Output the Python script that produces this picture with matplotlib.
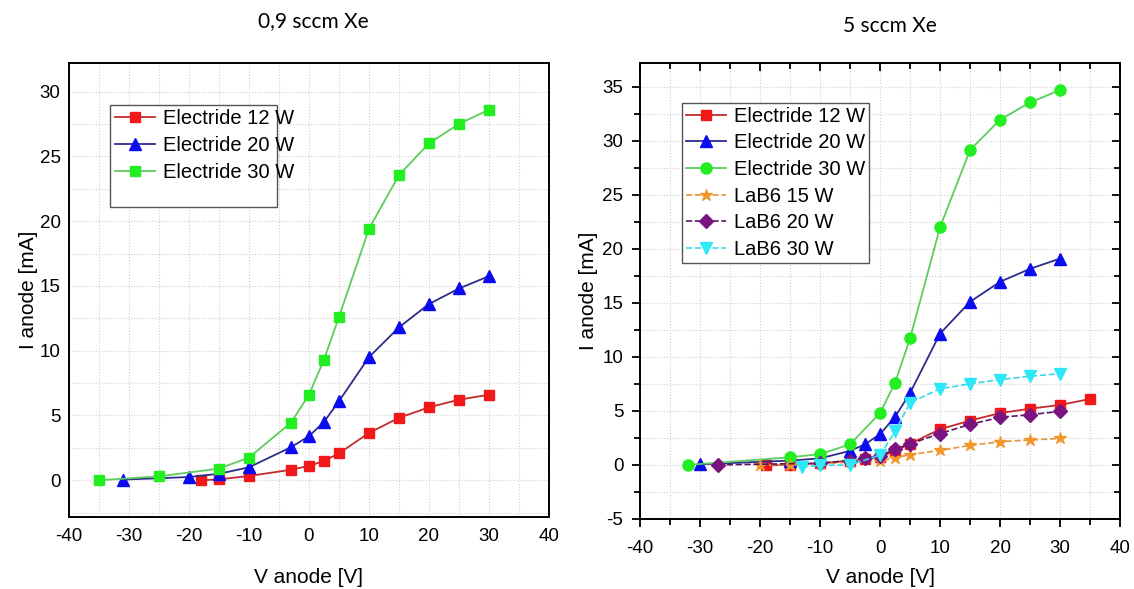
import matplotlib
matplotlib.use("Agg")
import matplotlib.pyplot as plt
from matplotlib.patches import Rectangle
from matplotlib.ticker import MultipleLocator

# ---- 0,9 sccm Xe ----
l_v12 = [-18, -15, -10, -3, 0, 2.5, 5, 10, 15, 20, 25, 30]
l_i12 = [0.0, 0.07, 0.33, 0.81, 1.11, 1.49, 2.08, 3.65, 4.82, 5.63, 6.22, 6.6]
l_v20 = [-31, -20, -15, -10, -3, 0, 2.5, 5, 10, 15, 20, 25, 30]
l_i20 = [0.05, 0.25, 0.5, 1.0, 2.55, 3.4, 4.5, 6.1, 9.5, 11.8, 13.6, 14.8, 15.75]
l_v30 = [-35, -25, -15, -10, -3, 0, 2.5, 5, 10, 15, 20, 25, 30]
l_i30 = [0.0, 0.3, 0.9, 1.75, 4.45, 6.6, 9.3, 12.6, 19.4, 23.55, 26.0, 27.5, 28.6]

# ---- 5 sccm Xe ----
r_v12 = [-19, -15, -10, -5, -2.5, 0, 2.5, 5, 10, 15, 20, 25, 30, 35]
r_i12 = [-0.05, 0.0, 0.15, 0.4, 0.55, 0.75, 1.3, 1.95, 3.3, 4.1, 4.8, 5.2, 5.55, 6.1]
r_v20 = [-30, -15, -10, -5, -2.5, 0, 2.5, 5, 10, 15, 20, 25, 30]
r_i20 = [0.05, 0.4, 0.6, 1.3, 1.9, 2.85, 4.45, 6.65, 12.15, 15.1, 16.95, 18.15, 19.1]
r_v30 = [-32, -15, -10, -5, 0, 2.5, 5, 10, 15, 20, 25, 30]
r_i30 = [0.0, 0.7, 1.0, 1.9, 4.8, 7.6, 11.7, 22.0, 29.15, 31.95, 33.55, 34.7]
lab_v15 = [-20, -15, -10, -5, 0, 2.5, 5, 10, 15, 20, 25, 30]
lab_i15 = [0.0, 0.0, 0.1, 0.25, 0.4, 0.65, 0.95, 1.35, 1.8, 2.15, 2.3, 2.45]
lab_v20 = [-27, -10, -5, -2.5, 0, 2.5, 5, 10, 15, 20, 25, 30]
lab_i20 = [0.0, 0.15, 0.4, 0.6, 0.85, 1.45, 1.95, 2.9, 3.75, 4.4, 4.65, 4.95]
lab_v30 = [-13, -10, -5, 0, 2.5, 5, 10, 15, 20, 25, 30]
lab_i30 = [-0.2, -0.05, 0.0, 0.9, 3.1, 5.75, 7.05, 7.5, 7.9, 8.2, 8.45]

plt.rcParams['font.family'] = ['Liberation Sans', 'DejaVu Sans']
plt.rcParams['axes.unicode_minus'] = False
TITLEFONT = ['Lato', 'DejaVu Sans']

fig = plt.figure(figsize=(11.34, 5.89), dpi=100)
axL = fig.add_axes([0.0608, 0.123, 0.4233, 0.77])
axR = fig.add_axes([0.5644, 0.119, 0.4233, 0.774])


def style_axes(ax, ylim, yticks, ticks_on, xpad, xlabpad, ylabpad):
    ax.set_xlim(-40, 40)
    ax.set_ylim(*ylim)
    ax.set_xticks(range(-40, 41, 10))
    ax.set_yticks(yticks)
    ax.xaxis.set_minor_locator(MultipleLocator(5))
    ax.yaxis.set_minor_locator(MultipleLocator(2.5))
    ax.grid(True, which='both', linestyle=':', color='#cfcfcf', linewidth=0.8)
    ax.set_axisbelow(True)
    for s in ax.spines.values():
        s.set_linewidth(1.4)
        s.set_color('black')
    ax.tick_params(labelsize=13.5)
    ax.tick_params(axis='x', pad=xpad)
    ax.tick_params(axis='y', pad=6)
    if ticks_on:
        ax.tick_params(which='both', direction='out', width=1.3, top=True, right=True)
        ax.tick_params(which='major', length=6)
        ax.tick_params(which='minor', length=4)
        # top and right ticks point into the box
        for t in ax.xaxis.get_major_ticks() + ax.xaxis.get_minor_ticks():
            t.tick2line.set_marker(3)
        for t in ax.yaxis.get_major_ticks() + ax.yaxis.get_minor_ticks():
            t.tick2line.set_marker(0)
    else:
        ax.tick_params(which='both', length=0)
    ax.set_xlabel('V anode [V]', fontsize=15, labelpad=xlabpad)
    ax.set_ylabel('I anode [mA]', fontsize=15, labelpad=ylabpad)


red_l, red_m = '#c42a2a', '#f01818'
blue_l, blue_m = '#2c2c8c', '#0b0bef'
green_l, green_m = '#5ccc5c', '#22ee22'

# left panel
axL.plot(l_v12, l_i12, '-', color=red_l, lw=1.3, marker='s', ms=6.5, mfc=red_m, mec=red_m, label='Electride 12 W')
axL.plot(l_v20, l_i20, '-', color=blue_l, lw=1.3, marker='^', ms=8, mfc=blue_m, mec=blue_m, label='Electride 20 W')
axL.plot(l_v30, l_i30, '-', color=green_l, lw=1.3, marker='s', ms=6.5, mfc=green_m, mec=green_m, label='Electride 30 W')
style_axes(axL, (-2.8, 32.2), range(0, 31, 5), False, 8, 17, 1)
axL.add_patch(Rectangle((0.0854, 0.682), 0.348, 0.226, transform=axL.transAxes,
                        fill=True, facecolor='white', edgecolor='#555555', lw=1.0, zorder=4))
legL = axL.legend(loc='upper left', bbox_to_anchor=(0.066, 0.93), frameon=False,
                  fontsize=14.5, handlelength=2.0, handletextpad=0.4,
                  labelspacing=0.4, borderpad=0.2)
legL.set_zorder(5)
axL.set_title('0,9 sccm Xe', family=TITLEFONT, fontsize=15, pad=26, x=0.51)

# right panel
axR.plot(r_v12, r_i12, '-', color=red_l, lw=1.3, marker='s', ms=7, mfc=red_m, mec=red_m, label='Electride 12 W')
axR.plot(r_v20, r_i20, '-', color=blue_l, lw=1.3, marker='^', ms=9, mfc=blue_m, mec=blue_m, label='Electride 20 W')
axR.plot(r_v30, r_i30, '-', color=green_l, lw=1.3, marker='o', ms=8, mfc=green_m, mec=green_m, label='Electride 30 W')
axR.plot(lab_v15, lab_i15, '--', color='#e39640', lw=1.2, marker='*', ms=9, mfc='#f0962a', mec='#f0962a', label='LaB6 15 W')
axR.plot(lab_v20, lab_i20, '--', color='#5a1460', lw=1.2, marker='D', ms=7, mfc='#7a1480', mec='#7a1480', label='LaB6 20 W')
axR.plot(lab_v30, lab_i30, '--', color='#3cd8e8', lw=1.2, marker='v', ms=9, mfc='#2ee8f8', mec='#2ee8f8', label='LaB6 30 W')
style_axes(axR, (-5, 37.2), range(-5, 36, 5), True, 9, 8, 3)
axR.legend(loc='upper left', bbox_to_anchor=(0.066, 0.935), frameon=True, fancybox=False,
           edgecolor='#555555', framealpha=1, fontsize=14.5,
           handlelength=2.0, handletextpad=0.4, labelspacing=0.38, borderpad=0.2)
axR.set_title('5 sccm Xe', family=TITLEFONT, fontsize=15, pad=22, x=0.52)

fig.savefig('out.png', dpi=100)
